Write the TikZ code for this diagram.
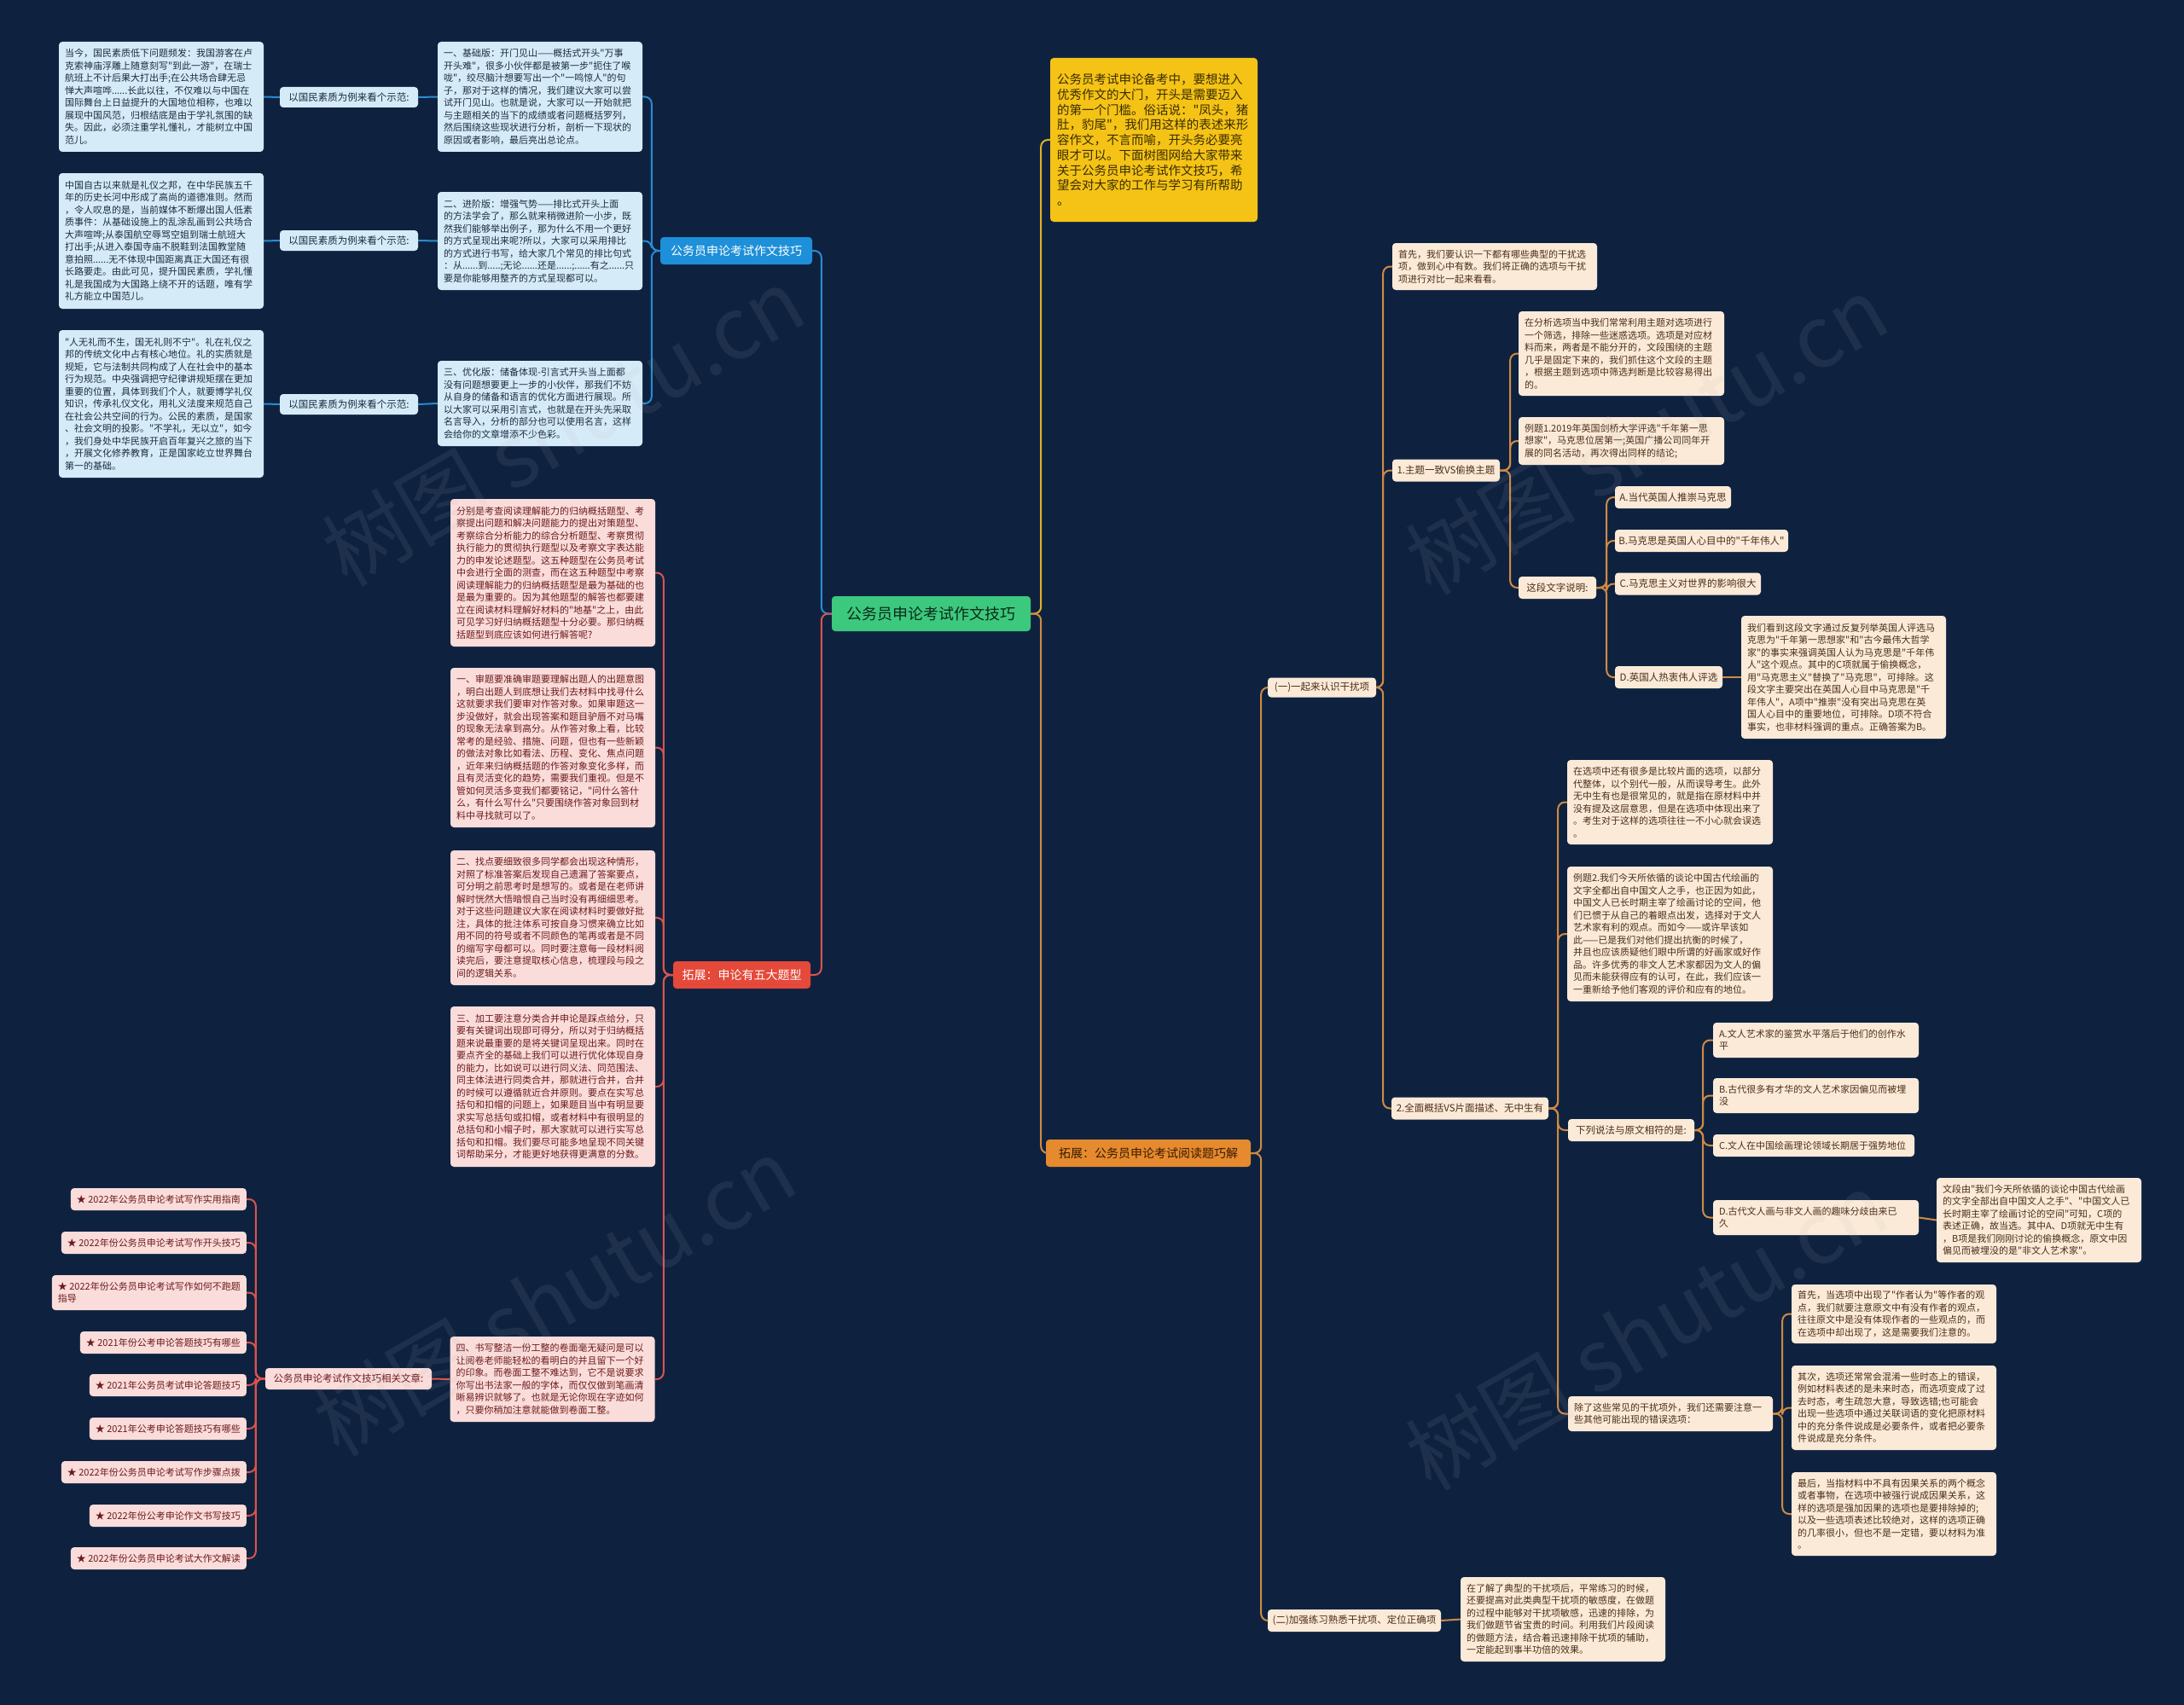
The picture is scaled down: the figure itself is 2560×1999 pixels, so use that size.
\documentclass[tikz,border=0pt]{standalone}
\usepackage{fontspec}
\newfontfamily\cjk{Noto Sans CJK SC}
\definecolor{bg}{HTML}{0E2240}
\definecolor{cenfill}{HTML}{3CC97D}
\definecolor{centext}{HTML}{0B2A1A}
\definecolor{blnode}{HTML}{1E8FD9}
\definecolor{blline}{HTML}{2A8BD0}
\definecolor{lbfill}{HTML}{D6EBF8}
\definecolor{lbtext}{HTML}{1B2B40}
\definecolor{rdnode}{HTML}{E5493A}
\definecolor{rdline}{HTML}{D9544D}
\definecolor{pkfill}{HTML}{FADCDA}
\definecolor{pktext}{HTML}{6A1B1B}
\definecolor{yel}{HTML}{F4C316}
\definecolor{yeltext}{HTML}{3A2C00}
\definecolor{yelline}{HTML}{E0B020}
\definecolor{ornode}{HTML}{E58A2E}
\definecolor{ortext}{HTML}{3A1A00}
\definecolor{orline}{HTML}{D08A42}
\definecolor{pcfill}{HTML}{FBEAD8}
\definecolor{pctext}{HTML}{4B2E18}
\newcommand\fs{\fontsize{11}{14.5}\cjk}
\newcommand\fl{\fontsize{11.5}{14}\cjk}
\tikzset{
  bx/.style={rounded corners=4pt, inner xsep=7pt, inner ysep=0pt, align=left, font=\fs},
  lb/.style={bx, fill=lbfill, text=lbtext},
  pk/.style={bx, fill=pkfill, text=pktext},
  pc/.style={bx, fill=pcfill, text=pctext},
  lab/.style={align=center, font=\fl},
  bl/.style={draw=blline, line width=2pt, rounded corners=8pt},
  rl/.style={draw=rdline, line width=2pt, rounded corners=8pt},
  ol/.style={draw=orline, line width=2pt, rounded corners=8pt},
  yl/.style={draw=yelline, line width=2pt, rounded corners=8pt},
  wm/.style={font=\fontsize{100}{100}\cjk, text=gray!60, opacity=0.10, rotate=30},
}
\begin{document}
\begin{tikzpicture}[x=1pt,y=-1pt]
\useasboundingbox (0,0) rectangle (2560,1999);
\fill[bg] (0,0) rectangle (2560,1999);

% ---------- centre ----------
\node[rounded corners=4pt, fill=cenfill, text=centext, font=\fontsize{18}{20}\cjk, minimum width=233pt, minimum height=41pt] (cen) at (1091.5,719.5) {公务员申论考试作文技巧};

% ---------- blue branch ----------
\node[rounded corners=4pt, fill=blnode, text=white, font=\fontsize{14}{16}\cjk, minimum width=178pt, minimum height=32pt] (blue) at (863,294) {公务员申论考试作文技巧};

\node[lb, text width=226pt, minimum height=129pt] (c2a) at (633,113.5) {一、基础版：开门见山——概括式开头"万事\\开头难"，很多小伙伴都是被第一步"扼住了喉\\咙"，绞尽脑汁想要写出一个"一鸣惊人"的句\\子，那对于这样的情况，我们建议大家可以尝\\试开门见山。也就是说，大家可以一开始就把\\与主题相关的当下的成绩或者问题概括罗列，\\然后围绕这些现状进行分析，剖析一下现状的\\原因或者影响，最后亮出总论点。};
\node[lb, text width=226pt, minimum height=115pt] (c2b) at (633,282.5) {二、进阶版：增强气势——排比式开头上面\\的方法学会了，那么就来稍微进阶一小步，既\\然我们能够举出例子，那为什么不用一个更好\\的方式呈现出来呢?所以，大家可以采用排比\\的方式进行书写，给大家几个常见的排比句式\\：从......到.....;无论......还是......;......有之......只\\要是你能够用整齐的方式呈现都可以。};
\node[lb, text width=226pt, minimum height=100pt] (c2c) at (633,473) {三、优化版：储备体现-引言式开头当上面都\\没有问题想要更上一步的小伙伴，那我们不妨\\从自身的储备和语言的优化方面进行展现。所\\以大家可以采用引言式，也就是在开头先采取\\名言导入，分析的部分也可以使用名言，这样\\会给你的文章增添不少色彩。};

\node[lb, lab, minimum width=162pt, minimum height=24pt, inner xsep=4pt] (la) at (409,114) {以国民素质为例来看个示范:};
\node[lb, lab, minimum width=162pt, minimum height=24pt, inner xsep=4pt] (lbb) at (409,282) {以国民素质为例来看个示范:};
\node[lb, lab, minimum width=162pt, minimum height=24pt, inner xsep=4pt] (lc) at (409,474) {以国民素质为例来看个示范:};

\node[lb, text width=226pt, minimum height=129pt] (c1a) at (189,113.5) {当今，国民素质低下问题频发：我国游客在卢\\克索神庙浮雕上随意刻写"到此一游"，在瑞士\\航班上不计后果大打出手;在公共场合肆无忌\\惮大声喧哗......长此以往，不仅难以与中国在\\国际舞台上日益提升的大国地位相称，也难以\\展现中国风范，归根结底是由于学礼氛围的缺\\失。因此，必须注重学礼懂礼，才能树立中国\\范儿。};
\node[lb, text width=226pt, minimum height=159pt] (c1b) at (189,282.5) {中国自古以来就是礼仪之邦，在中华民族五千\\年的历史长河中形成了高尚的道德准则。然而\\，令人叹息的是，当前媒体不断爆出国人低素\\质事件：从基础设施上的乱涂乱画到公共场合\\大声喧哗;从泰国航空辱骂空姐到瑞士航班大\\打出手;从进入泰国寺庙不脱鞋到法国教堂随\\意拍照......无不体现中国距离真正大国还有很\\长路要走。由此可见，提升国民素质，学礼懂\\礼是我国成为大国路上绕不开的话题，唯有学\\礼方能立中国范儿。};
\node[lb, text width=226pt, minimum height=173pt] (c1c) at (189,473.5) {"人无礼而不生，国无礼则不宁"。礼在礼仪之\\邦的传统文化中占有核心地位。礼的实质就是\\规矩，它与法制共同构成了人在社会中的基本\\行为规范。中央强调把守纪律讲规矩摆在更加\\重要的位置，具体到我们个人，就要博学礼仪\\知识，传承礼仪文化，用礼义法度来规范自己\\在社会公共空间的行为。公民的素质，是国家\\、社会文明的投影。"不学礼，无以立"，如今\\，我们身处中华民族开启百年复兴之旅的当下\\，开展文化修养教育，正是国家屹立世界舞台\\第一的基础。};

% ---------- red branch ----------
\node[rounded corners=4pt, fill=rdnode, text=white, font=\fontsize{14}{16}\cjk, minimum width=161pt, minimum height=32pt] (red) at (869.5,1143) {拓展：申论有五大题型};

\node[pk, text width=226pt, minimum height=173pt] (r1) at (648,671.5) {分别是考查阅读理解能力的归纳概括题型、考\\察提出问题和解决问题能力的提出对策题型、\\考察综合分析能力的综合分析题型、考察贯彻\\执行能力的贯彻执行题型以及考察文字表达能\\力的申发论述题型。这五种题型在公务员考试\\中会进行全面的测查，而在这五种题型中考察\\阅读理解能力的归纳概括题型是最为基础的也\\是最为重要的。因为其他题型的解答也都要建\\立在阅读材料理解好材料的"地基"之上，由此\\可见学习好归纳概括题型十分必要。那归纳概\\括题型到底应该如何进行解答呢?};
\node[pk, text width=226pt, minimum height=187pt] (r2) at (648,876.5) {一、审题要准确审题要理解出题人的出题意图\\，明白出题人到底想让我们去材料中找寻什么\\这就要求我们要审对作答对象。如果审题这一\\步没做好，就会出现答案和题目驴唇不对马嘴\\的现象无法拿到高分。从作答对象上看，比较\\常考的是经验、措施、问题，但也有一些新颖\\的做法对象比如看法、历程、变化、焦点问题\\，近年来归纳概括题的作答对象变化多样，而\\且有灵活变化的趋势，需要我们重视。但是不\\管如何灵活多变我们都要铭记，"问什么答什\\么，有什么写什么"只要围绕作答对象回到材\\料中寻找就可以了。};
\node[pk, text width=226pt, minimum height=158pt] (r3) at (648,1076) {二、找点要细致很多同学都会出现这种情形，\\对照了标准答案后发现自己遗漏了答案要点，\\可分明之前思考时是想写的。或者是在老师讲\\解时恍然大悟暗恨自己当时没有再细细思考。\\对于这些问题建议大家在阅读材料时要做好批\\注，具体的批注体系可按自身习惯来确立比如\\用不同的符号或者不同颜色的笔再或者是不同\\的缩写字母都可以。同时要注意每一段材料阅\\读完后，要注意提取核心信息，梳理段与段之\\间的逻辑关系。};
\node[pk, text width=226pt, minimum height=188pt] (r4) at (648,1274) {三、加工要注意分类合并申论是踩点给分，只\\要有关键词出现即可得分，所以对于归纳概括\\题来说最重要的是将关键词呈现出来。同时在\\要点齐全的基础上我们可以进行优化体现自身\\的能力，比如说可以进行同义法、同范围法、\\同主体法进行同类合并，那就进行合并，合并\\的时候可以遵循就近合并原则。要点在实写总\\括句和扣帽的问题上，如果题目当中有明显要\\求实写总括句或扣帽，或者材料中有很明显的\\总括句和小帽子时，那大家就可以进行实写总\\括句和扣帽。我们要尽可能多地呈现不同关键\\词帮助采分，才能更好地获得更满意的分数。};
\node[pk, text width=226pt, minimum height=100pt] (r5) at (647.5,1617) {四、书写整洁一份工整的卷面毫无疑问是可以\\让阅卷老师能轻松的看明白的并且留下一个好\\的印象。而卷面工整不难达到，它不是说要求\\你写出书法家一般的字体，而仅仅做到笔画清\\晰易辨识就够了。也就是无论你现在字迹如何\\，只要你稍加注意就能做到卷面工整。};

\node[pk, lab, minimum width=195pt, minimum height=25pt, inner xsep=4pt] (l5) at (408.5,1616.5) {公务员申论考试作文技巧相关文章:};

\node[pk, anchor=east, minimum height=26pt] (L1) at (289,1406) {★ 2022年公务员申论考试写作实用指南};
\node[pk, anchor=east, minimum height=26pt] (L2) at (289,1457) {★ 2022年份公务员申论考试写作开头技巧};
\node[pk, anchor=east, minimum height=41pt] (L3) at (289,1515.5) {★ 2022年份公务员申论考试写作如何不跑题\\指导};
\node[pk, anchor=east, minimum height=26pt] (L4) at (289,1574) {★ 2021年份公考申论答题技巧有哪些};
\node[pk, anchor=east, minimum height=26pt] (L5) at (289,1624) {★ 2021年公务员考试申论答题技巧};
\node[pk, anchor=east, minimum height=26pt] (L6) at (289,1675) {★ 2021年公考申论答题技巧有哪些};
\node[pk, anchor=east, minimum height=26pt] (L7) at (289,1726) {★ 2022年份公务员申论考试写作步骤点拨};
\node[pk, anchor=east, minimum height=26pt] (L8) at (289,1777) {★ 2022年份公考申论作文书写技巧};
\node[pk, anchor=east, minimum height=26pt] (L9) at (289,1827) {★ 2022年份公务员申论考试大作文解读};

% ---------- yellow ----------
\node[rounded corners=4pt, fill=yel, text=yeltext, font=\fontsize{14.5}{17.7}\cjk, align=left, inner xsep=8pt, text width=227pt, minimum height=192pt] (yb) at (1352.5,164) {公务员考试申论备考中，要想进入\\优秀作文的大门，开头是需要迈入\\的第一个门槛。俗话说："凤头，猪\\肚，豹尾"，我们用这样的表述来形\\容作文，不言而喻，开头务必要亮\\眼才可以。下面树图网给大家带来\\关于公务员申论考试作文技巧，希\\望会对大家的工作与学习有所帮助\\。};

% ---------- orange branch ----------
\node[rounded corners=4pt, fill=ornode, text=ortext, font=\fontsize{14}{16}\cjk, minimum width=240pt, minimum height=32pt] (orn) at (1346,1352) {拓展：公务员申论考试阅读题巧解};

\node[pc, lab, minimum width=127pt, minimum height=23pt, inner xsep=4pt] (g1) at (1549.5,806) {(一)一起来认识干扰项};
\node[pc, lab, minimum width=203pt, minimum height=26pt, inner xsep=4pt] (g2) at (1587.5,1900) {(二)加强练习熟悉干扰项、定位正确项};

\node[pc, text width=226pt, minimum height=55pt] (s1) at (1752,312.5) {首先，我们要认识一下都有哪些典型的干扰选\\项，做到心中有数。我们将正确的选项与干扰\\项进行对比一起来看看。};
\node[pc, lab, minimum width=126pt, minimum height=26pt, inner xsep=4pt] (t1) at (1695,551.5) {1.主题一致VS偷换主题};
\node[pc, text width=227pt, minimum height=99pt] (fx) at (1900.5,414.5) {在分析选项当中我们常常利用主题对选项进行\\一个筛选，排除一些迷惑选项。选项是对应材\\料而来，两者是不能分开的，文段围绕的主题\\几乎是固定下来的，我们抓住这个文段的主题\\，根据主题到选项中筛选判断是比较容易得出\\的。};
\node[pc, text width=227pt, minimum height=56pt] (e1) at (1900.5,517) {例题1.2019年英国剑桥大学评选"千年第一思\\想家"，马克思位居第一;英国广播公司同年开\\展的同名活动，再次得出同样的结论;};
\node[pc, lab, minimum width=91pt, minimum height=26pt, inner xsep=4pt] (zd) at (1825.5,689) {这段文字说明:};
\node[pc, lab, minimum width=136pt, minimum height=26pt, inner xsep=4pt] (oa) at (1961,583) {A.当代英国人推崇马克思};
\node[pc, lab, minimum width=203pt, minimum height=26pt, inner xsep=4pt] (ob) at (1994.5,634) {B.马克思是英国人心目中的"千年伟人"};
\node[pc, lab, minimum width=171pt, minimum height=26pt, inner xsep=4pt] (oc) at (1978.5,684.5) {C.马克思主义对世界的影响很大};
\node[pc, lab, minimum width=126pt, minimum height=26pt, inner xsep=4pt] (od) at (1956,794) {D.英国人热衷伟人评选};
\node[pc, text width=226pt, minimum height=144pt] (dl) at (2161,794) {我们看到这段文字通过反复列举英国人评选马\\克思为"千年第一思想家"和"古今最伟大哲学\\家"的事实来强调英国人认为马克思是"千年伟\\人"这个观点。其中的C项就属于偷换概念，\\用"马克思主义"替换了"马克思"，可排除。这\\段文字主要突出在英国人心目中马克思是"千\\年伟人"，A项中"推崇"没有突出马克思在英\\国人心目中的重要地位，可排除。D项不符合\\事实，也非材料强调的重点。正确答案为B。};

\node[pc, lab, minimum width=184pt, minimum height=26pt, inner xsep=4pt] (t2) at (1723,1299.5) {2.全面概括VS片面描述、无中生有};
\node[pc, text width=227pt, minimum height=99pt] (px) at (1957.5,940.5) {在选项中还有很多是比较片面的选项，以部分\\代整体，以个别代一般，从而误导考生。此外\\无中生有也是很常见的，就是指在原材料中并\\没有提及这层意思，但是在选项中体现出来了\\。考生对于这样的选项往往一不小心就会误选\\。};
\node[pc, text width=227pt, minimum height=158pt] (e2) at (1957.5,1095) {例题2.我们今天所依循的谈论中国古代绘画的\\文字全都出自中国文人之手，也正因为如此，\\中国文人已长时期主宰了绘画讨论的空间，他\\们已惯于从自己的着眼点出发，选择对于文人\\艺术家有利的观点。而如今——或许早该如\\此——已是我们对他们提出抗衡的时候了，\\并且也应该质疑他们眼中所谓的好画家或好作\\品。许多优秀的非文人艺术家都因为文人的偏\\见而未能获得应有的认可，在此，我们应该一\\一重新给予他们客观的评价和应有的地位。};
\node[pc, lab, minimum width=148pt, minimum height=26pt, inner xsep=4pt] (xl) at (1912,1325) {下列说法与原文相符的是:};
\node[pc, text width=227pt, minimum height=41pt] (pa) at (2128.5,1219.5) {A.文人艺术家的鉴赏水平落后于他们的创作水\\平};
\node[pc, text width=227pt, minimum height=41pt] (pb) at (2128.5,1284.5) {B.古代很多有才华的文人艺术家因偏见而被埋\\没};
\node[pc, text width=222pt, minimum height=26pt] (pcc) at (2126,1343) {C.文人在中国绘画理论领域长期居于强势地位};
\node[pc, text width=227pt, minimum height=41pt] (pd) at (2128.5,1427.5) {D.古代文人画与非文人画的趣味分歧由来已\\久};
\node[pc, text width=226pt, minimum height=99pt] (pdx) at (2390,1430.5) {文段由"我们今天所依循的谈论中国古代绘画\\的文字全部出自中国文人之手"、"中国文人已\\长时期主宰了绘画讨论的空间"可知，C项的\\表述正确，故当选。其中A、D项就无中生有\\，B项是我们刚刚讨论的偷换概念，原文中因\\偏见而被埋没的是"非文人艺术家"。};

\node[pc, text width=226pt, minimum height=41pt] (cl) at (1958,1657.5) {除了这些常见的干扰项外，我们还需要注意一\\些其他可能出现的错误选项：};
\node[pc, text width=226pt, minimum height=69pt] (q1) at (2220,1540.5) {首先，当选项中出现了"作者认为"等作者的观\\点，我们就要注意原文中有没有作者的观点，\\往往原文中是没有体现作者的一些观点的，而\\在选项中却出现了，这是需要我们注意的。};
\node[pc, text width=226pt, minimum height=99pt] (q2) at (2220,1650.5) {其次，选项还常常会混淆一些时态上的错误，\\例如材料表述的是未来时态，而选项变成了过\\去时态，考生疏忽大意，导致选错;也可能会\\出现一些选项中通过关联词语的变化把原材料\\中的充分条件说成是必要条件，或者把必要条\\件说成是充分条件。};
\node[pc, text width=226pt, minimum height=98pt] (q3) at (2220,1775) {最后，当指材料中不具有因果关系的两个概念\\或者事物，在选项中被强行说成因果关系，这\\样的选项是强加因果的选项也是要排除掉的;\\以及一些选项表述比较绝对，这样的选项正确\\的几率很小，但也不是一定错，要以材料为准\\。};
\node[pc, text width=226pt, minimum height=99pt] (lj) at (1832,1898.5) {在了解了典型的干扰项后，平常练习的时候，\\还要提高对此类典型干扰项的敏感度，在做题\\的过程中能够对干扰项敏感，迅速的排除，为\\我们做题节省宝贵的时间。利用我们片段阅读\\的做题方法，结合着迅速排除干扰项的辅助，\\一定能起到事半功倍的效果。};

% ---------- connectors ----------
\draw[bl] (cen.west) -- ++(-12,0) |- (blue.east);
\draw[rl] (cen.west) -- ++(-12,0) |- (red.east);
\draw[yl] (cen.east) -- ++(12,0) |- (yb.west);
\draw[ol] (cen.east) -- ++(12,0) |- (orn.west);

\foreach \c in {c2a,c2b,c2c}{\draw[bl] (blue.west) -- ++(-10,0) |- (\c.east);}
\draw[bl] (c2a.west) -- (la.east);
\draw[bl] (c2b.west) -- (lbb.east);
\draw[bl] (c2c.west) -- (lc.east);
\draw[bl] (la.west) -- (c1a.east);
\draw[bl] (lbb.west) -- (c1b.east);
\draw[bl] (lc.west) -- (c1c.east);

\foreach \c in {r1,r2,r3,r4,r5}{\draw[rl] (red.west) -- ++(-11,0) |- (\c.east);}
\draw[rl] (r5.west) -- (l5.east);
\foreach \c in {L1,L2,L3,L4,L5,L6,L7,L8,L9}{\draw[rl] (l5.west) -- ++(-11,0) |- (\c.east);}

\foreach \c in {g1,g2}{\draw[ol] (orn.east) -- ++(12,0) |- (\c.west);}
\foreach \c in {s1,t1,t2}{\draw[ol] (g1.east) -- ++(8,0) |- (\c.west);}
\foreach \c in {fx,e1,zd}{\draw[ol] (t1.east) -- ++(12,0) |- (\c.west);}
\foreach \c in {oa,ob,oc,od}{\draw[ol] (zd.east) -- ++(12,0) |- (\c.west);}
\draw[ol] (od.east) -- (dl.west);
\foreach \c in {px,e2,xl,cl}{\draw[ol] (t2.east) -- ++(11,0) |- (\c.west);}
\foreach \c in {pa,pb,pcc,pd}{\draw[ol] (xl.east) -- ++(10,0) |- (\c.west);}
\draw[ol] (pd.east) -- (pdx.west);
\foreach \c in {q1,q2,q3}{\draw[ol] (cl.east) -- ++(11,0) |- (\c.west);}
\draw[ol] (g2.east) -- (lj.west);

% ---------- watermarks ----------
\node[wm] (w1) at (660,500) {树图 shutu.cn};
\node[wm] (w2) at (1930,510) {树图 shutu.cn};
\node[wm] (w3) at (650,1520) {树图 shutu.cn};
\node[wm] (w4) at (1930,1560) {树图 shutu.cn};
\end{tikzpicture}
\end{document}
